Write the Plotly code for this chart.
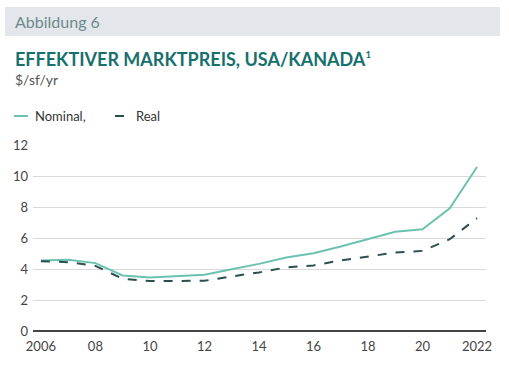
import plotly.graph_objects as go

years = list(range(2006, 2023))
nominal = [4.55, 4.59, 4.38, 3.58, 3.45, 3.55, 3.63, 3.98, 4.33, 4.74, 5.02, 5.45, 5.95, 6.4, 6.57, 7.92, 10.58]
real = [4.5, 4.44, 4.2, 3.37, 3.22, 3.22, 3.24, 3.52, 3.78, 4.1, 4.23, 4.55, 4.8, 5.06, 5.17, 5.92, 7.28]
tick_vals = [2006, 2008, 2010, 2012, 2014, 2016, 2018, 2020, 2022]
tick_text = ["2006", "08", "10", "12", "14", "16", "18", "20", "2022"]

W, H = 509, 370
L, R, T, B = 33, 23, 145, 39
pw, ph = W - L - R, H - T - B

def px(x):
    return (x - L) / pw

def py(y):
    return (H - B - y) / ph

FONT = "Lato"
TEAL = "#6cc2b2"
DARK = "#2b4f4e"

fig = go.Figure()
fig.add_trace(go.Scatter(x=years, y=nominal, mode="lines", name="Nominal,",
                         line=dict(color=TEAL, width=2), showlegend=False))
fig.add_trace(go.Scatter(x=years, y=real, mode="lines", name="Real",
                         line=dict(color=DARK, width=2, dash="dash"), showlegend=False))

shapes = [
    dict(type="rect", xref="paper", yref="paper", x0=px(5), x1=px(500), y0=py(36), y1=py(7),
         fillcolor="#e3e6ea", line=dict(width=0), layer="below"),
    dict(type="line", xref="paper", yref="paper", x0=px(14), x1=px(28), y0=py(116), y1=py(116),
         line=dict(color=TEAL, width=2)),
    dict(type="line", xref="paper", yref="paper", x0=px(115), x1=px(127), y0=py(116), y1=py(116),
         line=dict(color=DARK, width=2, dash="dash")),
]

annotations = [
    dict(text="Abbildung 6", xref="paper", yref="paper", x=px(13), y=py(22), xanchor="left", yanchor="middle",
         showarrow=False, font=dict(family=FONT, size=16, color="#6e8a8c")),
    dict(text="<b>EFFEKTIVER MARKTPREIS, USA/KANADA</b>¹",
         xref="paper", yref="paper", x=px(13), y=py(59),
         xanchor="left", yanchor="middle", showarrow=False, font=dict(family=FONT, size=18, color="#17706c")),
    dict(text="$/sf/yr", xref="paper", yref="paper", x=px(13), y=py(79), xanchor="left", yanchor="middle",
         showarrow=False, font=dict(family=FONT, size=14, color="#555555")),
    dict(text="Nominal,", xref="paper", yref="paper", x=px(33), y=py(116), xanchor="left", yanchor="middle",
         showarrow=False, font=dict(family=FONT, size=13, color="#333333")),
    dict(text="Real", xref="paper", yref="paper", x=px(134), y=py(116), xanchor="left", yanchor="middle",
         showarrow=False, font=dict(family=FONT, size=13, color="#333333")),
]

fig.update_layout(
    width=W, height=H,
    margin=dict(l=L, r=R, t=T, b=B),
    paper_bgcolor="white", plot_bgcolor="white",
    shapes=shapes, annotations=annotations,
    font=dict(family=FONT, size=13, color="#444444"),
    xaxis=dict(range=[2005.71, 2022.33], tickvals=tick_vals, ticktext=tick_text,
               showgrid=False, zeroline=False, showline=False, ticks="",
               ticklabelstandoff=6, tickfont=dict(size=13, color="#444444")),
    yaxis=dict(range=[0, 12], dtick=2, showgrid=True, gridcolor="#d9d9d9", gridwidth=1,
               zeroline=True, zerolinecolor="#444444", zerolinewidth=1.5, showline=False,
               ticks="", ticklabelstandoff=4, tickfont=dict(size=13, color="#444444")),
)

fig.write_html("out.html", config={"displayModeBar": False},
               post_script="document.body.style.margin='0';document.body.style.overflow='hidden';")
